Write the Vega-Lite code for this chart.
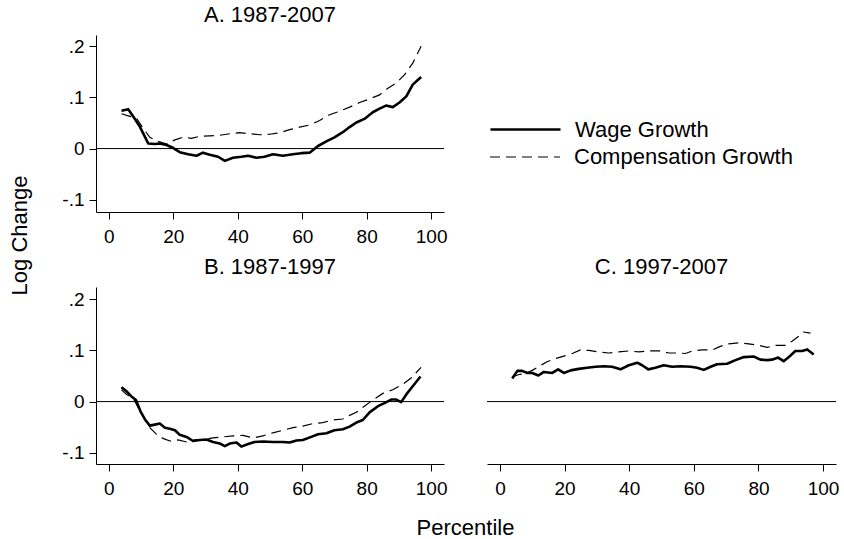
{
  "$schema": "https://vega.github.io/schema/vega-lite/v6.json",
  "background": "white",
  "padding": {"left": 8, "top": 4, "right": 0, "bottom": 0},
  "bounds": "flush",
  "config": {
    "font": "Liberation Sans",
    "view": {"stroke": null},
    "axis": {"grid": false, "domainColor": "black", "tickColor": "black", "labelColor": "black", "labelFontSize": 19, "tickSize": 7, "labelPadding": 5, "domainWidth": 1, "tickWidth": 1, "titleFontWeight": "normal", "titleFontSize": 22, "titleColor": "black", "labelFont": "Liberation Sans", "titleFont": "Liberation Sans"},
    "axisX": {"labelPadding": 8},
    "title": {"fontSize": 22, "fontWeight": "normal", "color": "black", "font": "Liberation Sans", "offset": 8}
  },
  "datasets": {
    "pts": [
    {"panel":"A","series":"Wage Growth","pct":3.9,"val":0.074},{"panel":"A","series":"Wage Growth","pct":6,"val":0.077},{"panel":"A","series":"Wage Growth","pct":7.5,"val":0.063},{"panel":"A","series":"Wage Growth","pct":9.6,"val":0.043},{"panel":"A","series":"Wage Growth","pct":12.2,"val":0.010},{"panel":"A","series":"Wage Growth","pct":14.3,"val":0.009},{"panel":"A","series":"Wage Growth","pct":15.8,"val":0.010},{"panel":"A","series":"Wage Growth","pct":17.9,"val":0.007},{"panel":"A","series":"Wage Growth","pct":20,"val":0.001},{"panel":"A","series":"Wage Growth","pct":22,"val":-0.007},{"panel":"A","series":"Wage Growth","pct":24.6,"val":-0.011},{"panel":"A","series":"Wage Growth","pct":27.2,"val":-0.014},{"panel":"A","series":"Wage Growth","pct":29.2,"val":-0.008},{"panel":"A","series":"Wage Growth","pct":31.3,"val":-0.012},{"panel":"A","series":"Wage Growth","pct":33.9,"val":-0.016},{"panel":"A","series":"Wage Growth","pct":36,"val":-0.024},{"panel":"A","series":"Wage Growth","pct":38.5,"val":-0.018},{"panel":"A","series":"Wage Growth","pct":41.1,"val":-0.016},{"panel":"A","series":"Wage Growth","pct":43.2,"val":-0.014},{"panel":"A","series":"Wage Growth","pct":45.8,"val":-0.018},{"panel":"A","series":"Wage Growth","pct":48.3,"val":-0.016},{"panel":"A","series":"Wage Growth","pct":50.9,"val":-0.011},{"panel":"A","series":"Wage Growth","pct":54,"val":-0.014},{"panel":"A","series":"Wage Growth","pct":57.1,"val":-0.011},{"panel":"A","series":"Wage Growth","pct":59.7,"val":-0.009},{"panel":"A","series":"Wage Growth","pct":62.3,"val":-0.008},{"panel":"A","series":"Wage Growth","pct":64.9,"val":0.005},{"panel":"A","series":"Wage Growth","pct":67.5,"val":0.014},{"panel":"A","series":"Wage Growth","pct":70,"val":0.022},{"panel":"A","series":"Wage Growth","pct":72.6,"val":0.032},{"panel":"A","series":"Wage Growth","pct":74.7,"val":0.042},{"panel":"A","series":"Wage Growth","pct":76.8,"val":0.051},{"panel":"A","series":"Wage Growth","pct":79.3,"val":0.058},{"panel":"A","series":"Wage Growth","pct":81.9,"val":0.071},{"panel":"A","series":"Wage Growth","pct":84,"val":0.078},{"panel":"A","series":"Wage Growth","pct":86,"val":0.084},{"panel":"A","series":"Wage Growth","pct":88.1,"val":0.081},{"panel":"A","series":"Wage Growth","pct":90.2,"val":0.090},{"panel":"A","series":"Wage Growth","pct":92.3,"val":0.102},{"panel":"A","series":"Wage Growth","pct":94.3,"val":0.125},{"panel":"A","series":"Wage Growth","pct":96.9,"val":0.140},
    {"panel":"A","series":"Compensation Growth","pct":3.9,"val":0.068},{"panel":"A","series":"Compensation Growth","pct":6.5,"val":0.063},{"panel":"A","series":"Compensation Growth","pct":8.6,"val":0.059},{"panel":"A","series":"Compensation Growth","pct":10.6,"val":0.040},{"panel":"A","series":"Compensation Growth","pct":12.7,"val":0.022},{"panel":"A","series":"Compensation Growth","pct":15.3,"val":0.014},{"panel":"A","series":"Compensation Growth","pct":17.9,"val":0.009},{"panel":"A","series":"Compensation Growth","pct":20.5,"val":0.017},{"panel":"A","series":"Compensation Growth","pct":23,"val":0.022},{"panel":"A","series":"Compensation Growth","pct":25.6,"val":0.020},{"panel":"A","series":"Compensation Growth","pct":28.2,"val":0.024},{"panel":"A","series":"Compensation Growth","pct":31.3,"val":0.025},{"panel":"A","series":"Compensation Growth","pct":34.4,"val":0.026},{"panel":"A","series":"Compensation Growth","pct":37.5,"val":0.029},{"panel":"A","series":"Compensation Growth","pct":40.6,"val":0.031},{"panel":"A","series":"Compensation Growth","pct":43.7,"val":0.029},{"panel":"A","series":"Compensation Growth","pct":46.8,"val":0.027},{"panel":"A","series":"Compensation Growth","pct":49.9,"val":0.028},{"panel":"A","series":"Compensation Growth","pct":53,"val":0.031},{"panel":"A","series":"Compensation Growth","pct":56.1,"val":0.037},{"panel":"A","series":"Compensation Growth","pct":59.2,"val":0.042},{"panel":"A","series":"Compensation Growth","pct":62.3,"val":0.046},{"panel":"A","series":"Compensation Growth","pct":65.4,"val":0.055},{"panel":"A","series":"Compensation Growth","pct":68.5,"val":0.066},{"panel":"A","series":"Compensation Growth","pct":71.6,"val":0.073},{"panel":"A","series":"Compensation Growth","pct":74.7,"val":0.081},{"panel":"A","series":"Compensation Growth","pct":77.8,"val":0.090},{"panel":"A","series":"Compensation Growth","pct":80.9,"val":0.097},{"panel":"A","series":"Compensation Growth","pct":84,"val":0.105},{"panel":"A","series":"Compensation Growth","pct":86.6,"val":0.118},{"panel":"A","series":"Compensation Growth","pct":89.2,"val":0.128},{"panel":"A","series":"Compensation Growth","pct":91.7,"val":0.144},{"panel":"A","series":"Compensation Growth","pct":94.3,"val":0.167},{"panel":"A","series":"Compensation Growth","pct":96.9,"val":0.200},
    {"panel":"B","series":"Wage Growth","pct":3.9,"val":0.028},{"panel":"B","series":"Wage Growth","pct":5.5,"val":0.020},{"panel":"B","series":"Wage Growth","pct":7,"val":0.010},{"panel":"B","series":"Wage Growth","pct":8.4,"val":0.003},{"panel":"B","series":"Wage Growth","pct":9.8,"val":-0.019},{"panel":"B","series":"Wage Growth","pct":11.2,"val":-0.035},{"panel":"B","series":"Wage Growth","pct":12.7,"val":-0.047},{"panel":"B","series":"Wage Growth","pct":14.3,"val":-0.045},{"panel":"B","series":"Wage Growth","pct":15.8,"val":-0.043},{"panel":"B","series":"Wage Growth","pct":17.4,"val":-0.051},{"panel":"B","series":"Wage Growth","pct":18.9,"val":-0.053},{"panel":"B","series":"Wage Growth","pct":20.5,"val":-0.056},{"panel":"B","series":"Wage Growth","pct":22,"val":-0.065},{"panel":"B","series":"Wage Growth","pct":24.1,"val":-0.069},{"panel":"B","series":"Wage Growth","pct":26.1,"val":-0.077},{"panel":"B","series":"Wage Growth","pct":28.2,"val":-0.075},{"panel":"B","series":"Wage Growth","pct":30.3,"val":-0.074},{"panel":"B","series":"Wage Growth","pct":32.3,"val":-0.079},{"panel":"B","series":"Wage Growth","pct":34.4,"val":-0.082},{"panel":"B","series":"Wage Growth","pct":36,"val":-0.087},{"panel":"B","series":"Wage Growth","pct":37.5,"val":-0.082},{"panel":"B","series":"Wage Growth","pct":39.6,"val":-0.080},{"panel":"B","series":"Wage Growth","pct":41.1,"val":-0.088},{"panel":"B","series":"Wage Growth","pct":43.2,"val":-0.083},{"panel":"B","series":"Wage Growth","pct":45.2,"val":-0.079},{"panel":"B","series":"Wage Growth","pct":47.8,"val":-0.078},{"panel":"B","series":"Wage Growth","pct":50.9,"val":-0.079},{"panel":"B","series":"Wage Growth","pct":54,"val":-0.079},{"panel":"B","series":"Wage Growth","pct":56.1,"val":-0.080},{"panel":"B","series":"Wage Growth","pct":58.2,"val":-0.076},{"panel":"B","series":"Wage Growth","pct":60.2,"val":-0.075},{"panel":"B","series":"Wage Growth","pct":62.8,"val":-0.069},{"panel":"B","series":"Wage Growth","pct":64.9,"val":-0.064},{"panel":"B","series":"Wage Growth","pct":67.5,"val":-0.062},{"panel":"B","series":"Wage Growth","pct":70,"val":-0.056},{"panel":"B","series":"Wage Growth","pct":72.6,"val":-0.054},{"panel":"B","series":"Wage Growth","pct":74.7,"val":-0.049},{"panel":"B","series":"Wage Growth","pct":76.8,"val":-0.041},{"panel":"B","series":"Wage Growth","pct":78.8,"val":-0.036},{"panel":"B","series":"Wage Growth","pct":80.9,"val":-0.021},{"panel":"B","series":"Wage Growth","pct":83.5,"val":-0.009},{"panel":"B","series":"Wage Growth","pct":85.5,"val":-0.003},{"panel":"B","series":"Wage Growth","pct":87.6,"val":0.004},{"panel":"B","series":"Wage Growth","pct":89.2,"val":0.004},{"panel":"B","series":"Wage Growth","pct":90.7,"val":-0.001},{"panel":"B","series":"Wage Growth","pct":92.3,"val":0.014},{"panel":"B","series":"Wage Growth","pct":94.3,"val":0.030},{"panel":"B","series":"Wage Growth","pct":96.7,"val":0.049},
    {"panel":"B","series":"Compensation Growth","pct":3.9,"val":0.023},{"panel":"B","series":"Compensation Growth","pct":5.5,"val":0.014},{"panel":"B","series":"Compensation Growth","pct":7.5,"val":0.007},{"panel":"B","series":"Compensation Growth","pct":9.1,"val":-0.012},{"panel":"B","series":"Compensation Growth","pct":10.6,"val":-0.028},{"panel":"B","series":"Compensation Growth","pct":12.7,"val":-0.051},{"panel":"B","series":"Compensation Growth","pct":14.8,"val":-0.064},{"panel":"B","series":"Compensation Growth","pct":16.8,"val":-0.072},{"panel":"B","series":"Compensation Growth","pct":18.9,"val":-0.077},{"panel":"B","series":"Compensation Growth","pct":21.5,"val":-0.075},{"panel":"B","series":"Compensation Growth","pct":24.1,"val":-0.079},{"panel":"B","series":"Compensation Growth","pct":26.7,"val":-0.075},{"panel":"B","series":"Compensation Growth","pct":29.2,"val":-0.074},{"panel":"B","series":"Compensation Growth","pct":32.3,"val":-0.071},{"panel":"B","series":"Compensation Growth","pct":35.4,"val":-0.069},{"panel":"B","series":"Compensation Growth","pct":38.5,"val":-0.067},{"panel":"B","series":"Compensation Growth","pct":41.6,"val":-0.066},{"panel":"B","series":"Compensation Growth","pct":44.7,"val":-0.071},{"panel":"B","series":"Compensation Growth","pct":47.8,"val":-0.067},{"panel":"B","series":"Compensation Growth","pct":50.9,"val":-0.061},{"panel":"B","series":"Compensation Growth","pct":54,"val":-0.056},{"panel":"B","series":"Compensation Growth","pct":57.1,"val":-0.051},{"panel":"B","series":"Compensation Growth","pct":60.2,"val":-0.048},{"panel":"B","series":"Compensation Growth","pct":63.3,"val":-0.043},{"panel":"B","series":"Compensation Growth","pct":66.4,"val":-0.041},{"panel":"B","series":"Compensation Growth","pct":69.5,"val":-0.036},{"panel":"B","series":"Compensation Growth","pct":72.6,"val":-0.034},{"panel":"B","series":"Compensation Growth","pct":74.7,"val":-0.027},{"panel":"B","series":"Compensation Growth","pct":76.8,"val":-0.021},{"panel":"B","series":"Compensation Growth","pct":79.3,"val":-0.009},{"panel":"B","series":"Compensation Growth","pct":81.9,"val":0.003},{"panel":"B","series":"Compensation Growth","pct":85,"val":0.016},{"panel":"B","series":"Compensation Growth","pct":88.1,"val":0.023},{"panel":"B","series":"Compensation Growth","pct":91.2,"val":0.034},{"panel":"B","series":"Compensation Growth","pct":93.8,"val":0.046},{"panel":"B","series":"Compensation Growth","pct":96.9,"val":0.067},
    {"panel":"C","series":"Wage Growth","pct":3.8,"val":0.045},{"panel":"C","series":"Wage Growth","pct":5.4,"val":0.060},{"panel":"C","series":"Wage Growth","pct":6.9,"val":0.060},{"panel":"C","series":"Wage Growth","pct":8.5,"val":0.056},{"panel":"C","series":"Wage Growth","pct":10,"val":0.056},{"panel":"C","series":"Wage Growth","pct":11.9,"val":0.051},{"panel":"C","series":"Wage Growth","pct":13.6,"val":0.058},{"panel":"C","series":"Wage Growth","pct":16.2,"val":0.056},{"panel":"C","series":"Wage Growth","pct":18,"val":0.063},{"panel":"C","series":"Wage Growth","pct":19.8,"val":0.056},{"panel":"C","series":"Wage Growth","pct":21.9,"val":0.061},{"panel":"C","series":"Wage Growth","pct":24.4,"val":0.064},{"panel":"C","series":"Wage Growth","pct":27,"val":0.066},{"panel":"C","series":"Wage Growth","pct":29.6,"val":0.068},{"panel":"C","series":"Wage Growth","pct":32.2,"val":0.069},{"panel":"C","series":"Wage Growth","pct":34.7,"val":0.068},{"panel":"C","series":"Wage Growth","pct":37.3,"val":0.063},{"panel":"C","series":"Wage Growth","pct":39.9,"val":0.071},{"panel":"C","series":"Wage Growth","pct":42.5,"val":0.076},{"panel":"C","series":"Wage Growth","pct":44,"val":0.071},{"panel":"C","series":"Wage Growth","pct":45.9,"val":0.063},{"panel":"C","series":"Wage Growth","pct":48.1,"val":0.066},{"panel":"C","series":"Wage Growth","pct":50.7,"val":0.071},{"panel":"C","series":"Wage Growth","pct":53.3,"val":0.068},{"panel":"C","series":"Wage Growth","pct":55.9,"val":0.069},{"panel":"C","series":"Wage Growth","pct":59,"val":0.068},{"panel":"C","series":"Wage Growth","pct":61,"val":0.066},{"panel":"C","series":"Wage Growth","pct":63.1,"val":0.062},{"panel":"C","series":"Wage Growth","pct":65.2,"val":0.068},{"panel":"C","series":"Wage Growth","pct":67.2,"val":0.073},{"panel":"C","series":"Wage Growth","pct":70.3,"val":0.074},{"panel":"C","series":"Wage Growth","pct":72.9,"val":0.081},{"panel":"C","series":"Wage Growth","pct":75.5,"val":0.087},{"panel":"C","series":"Wage Growth","pct":78.6,"val":0.088},{"panel":"C","series":"Wage Growth","pct":80.6,"val":0.082},{"panel":"C","series":"Wage Growth","pct":82.7,"val":0.081},{"panel":"C","series":"Wage Growth","pct":84.2,"val":0.082},{"panel":"C","series":"Wage Growth","pct":86.1,"val":0.086},{"panel":"C","series":"Wage Growth","pct":87.8,"val":0.079},{"panel":"C","series":"Wage Growth","pct":89.4,"val":0.087},{"panel":"C","series":"Wage Growth","pct":91.4,"val":0.099},{"panel":"C","series":"Wage Growth","pct":93.5,"val":0.099},{"panel":"C","series":"Wage Growth","pct":95.1,"val":0.102},{"panel":"C","series":"Wage Growth","pct":97.1,"val":0.092},
    {"panel":"C","series":"Compensation Growth","pct":3.8,"val":0.048},{"panel":"C","series":"Compensation Growth","pct":5.9,"val":0.053},{"panel":"C","series":"Compensation Growth","pct":7.9,"val":0.055},{"panel":"C","series":"Compensation Growth","pct":10,"val":0.061},{"panel":"C","series":"Compensation Growth","pct":12.1,"val":0.069},{"panel":"C","series":"Compensation Growth","pct":14.6,"val":0.078},{"panel":"C","series":"Compensation Growth","pct":17.2,"val":0.084},{"panel":"C","series":"Compensation Growth","pct":19.8,"val":0.089},{"panel":"C","series":"Compensation Growth","pct":22.4,"val":0.094},{"panel":"C","series":"Compensation Growth","pct":24.9,"val":0.101},{"panel":"C","series":"Compensation Growth","pct":27.5,"val":0.100},{"panel":"C","series":"Compensation Growth","pct":30.6,"val":0.097},{"panel":"C","series":"Compensation Growth","pct":33.7,"val":0.095},{"panel":"C","series":"Compensation Growth","pct":36.8,"val":0.097},{"panel":"C","series":"Compensation Growth","pct":39.9,"val":0.099},{"panel":"C","series":"Compensation Growth","pct":43,"val":0.097},{"panel":"C","series":"Compensation Growth","pct":46.1,"val":0.099},{"panel":"C","series":"Compensation Growth","pct":49.2,"val":0.099},{"panel":"C","series":"Compensation Growth","pct":52.3,"val":0.095},{"panel":"C","series":"Compensation Growth","pct":55.4,"val":0.095},{"panel":"C","series":"Compensation Growth","pct":57.4,"val":0.094},{"panel":"C","series":"Compensation Growth","pct":59.5,"val":0.099},{"panel":"C","series":"Compensation Growth","pct":62.6,"val":0.101},{"panel":"C","series":"Compensation Growth","pct":65.7,"val":0.101},{"panel":"C","series":"Compensation Growth","pct":68.2,"val":0.108},{"panel":"C","series":"Compensation Growth","pct":70.8,"val":0.113},{"panel":"C","series":"Compensation Growth","pct":73.9,"val":0.115},{"panel":"C","series":"Compensation Growth","pct":77,"val":0.113},{"panel":"C","series":"Compensation Growth","pct":80.1,"val":0.110},{"panel":"C","series":"Compensation Growth","pct":82.7,"val":0.106},{"panel":"C","series":"Compensation Growth","pct":85.3,"val":0.110},{"panel":"C","series":"Compensation Growth","pct":88.4,"val":0.110},{"panel":"C","series":"Compensation Growth","pct":90.4,"val":0.118},{"panel":"C","series":"Compensation Growth","pct":92.5,"val":0.128},{"panel":"C","series":"Compensation Growth","pct":94,"val":0.136},{"panel":"C","series":"Compensation Growth","pct":96.1,"val":0.134}
    ],
    "zero": [{"z": 0}]
  },
  "vconcat": [
    {
      "title": "A. 1987-2007",
      "width": 348, "height": 177,
      "resolve": {"scale": {"color": "independent"}, "legend": {"color": "independent"}},
      "layer": [
        {"data": {"name": "zero"}, "mark": {"type": "rule", "color": "black", "strokeWidth": 1}, "encoding": {"y": {"field": "z", "type": "quantitative", "scale": {"domain": [-0.124, 0.222], "nice": false, "zero": false}, "axis": {"values": [-0.1, 0, 0.1, 0.2], "labelExpr": "datum.value == 0 ? '0' : (datum.value < 0 ? '-' : '') + '.' + format(abs(datum.value) * 10, 'd')", "title": "Log Change", "titleX": -77, "titleY": 200, "titleAlign": "center", "titleBaseline": "middle", "titleAngle": -90}}}},
        {"data": {"name": "pts"}, "transform": [{"filter": "datum.panel === 'A' && datum.series === 'Compensation Growth'"}],
         "mark": {"type": "line", "strokeWidth": 1.2, "strokeDash": [10, 6]},
         "encoding": {
           "x": {"field": "pct", "type": "quantitative", "scale": {"domain": [-4, 104], "nice": false, "zero": false}, "axis": {"values": [0, 20, 40, 60, 80, 100], "title": null}},
           "y": {"field": "val", "type": "quantitative"},
           "color": {"field": "series", "type": "nominal", "scale": {"domain": ["Compensation Growth"], "range": ["black"]}, "legend": {"orient": "none", "legendX": 418, "legendY": 111, "padding": 0, "title": null, "symbolType": "M-3.5,0H3.5", "symbolSize": 400, "symbolStrokeWidth": 1.2, "symbolDash": [10, 6], "symbolStrokeColor": "black", "labelFontSize": 22, "labelColor": "black", "labelOffset": 38, "labelLimit": 400}}
         }},
        {"data": {"name": "pts"}, "transform": [{"filter": "datum.panel === 'A' && datum.series === 'Wage Growth'"}],
         "mark": {"type": "line", "strokeWidth": 2.6, "strokeJoin": "round"},
         "encoding": {
           "x": {"field": "pct", "type": "quantitative"},
           "y": {"field": "val", "type": "quantitative"},
           "color": {"field": "series", "type": "nominal", "scale": {"domain": ["Wage Growth"], "range": ["black"]}, "legend": {"orient": "none", "legendX": 418, "legendY": 83, "padding": 0, "title": null, "symbolType": "M-3.5,0H3.5", "symbolSize": 400, "symbolStrokeWidth": 2.6, "symbolStrokeColor": "black", "labelFontSize": 22, "labelColor": "black", "labelOffset": 38, "labelLimit": 400}}
         }}
      ]
    },
    {
      "bounds": "flush",
      "spacing": 43,
      "hconcat": [
        {
          "title": "B. 1987-1997",
          "width": 348, "height": 177,
          "layer": [
            {"data": {"name": "zero"}, "mark": {"type": "rule", "color": "black", "strokeWidth": 1}, "encoding": {"y": {"field": "z", "type": "quantitative", "scale": {"domain": [-0.122, 0.224], "nice": false, "zero": false}, "axis": {"values": [-0.1, 0, 0.1, 0.2], "labelExpr": "datum.value == 0 ? '0' : (datum.value < 0 ? '-' : '') + '.' + format(abs(datum.value) * 10, 'd')", "title": null}}}},
            {"data": {"name": "pts"}, "transform": [{"filter": "datum.panel === 'B' && datum.series === 'Compensation Growth'"}],
             "mark": {"type": "line", "color": "black", "strokeWidth": 1.2, "strokeDash": [10, 6]},
             "encoding": {
               "x": {"field": "pct", "type": "quantitative", "scale": {"domain": [-4, 104], "nice": false, "zero": false}, "axis": {"values": [0, 20, 40, 60, 80, 100], "title": "Percentile", "titleX": 369, "titleY": 63, "titleAlign": "center", "titleBaseline": "middle"}},
               "y": {"field": "val", "type": "quantitative"}
             }},
            {"data": {"name": "pts"}, "transform": [{"filter": "datum.panel === 'B' && datum.series === 'Wage Growth'"}],
             "mark": {"type": "line", "color": "black", "strokeWidth": 2.6, "strokeJoin": "round"},
             "encoding": {
               "x": {"field": "pct", "type": "quantitative"},
               "y": {"field": "val", "type": "quantitative"}
             }}
          ]
        },
        {
          "title": "C. 1997-2007",
          "width": 349, "height": 177,
          "layer": [
            {"data": {"name": "zero"}, "mark": {"type": "rule", "color": "black", "strokeWidth": 1}, "encoding": {"y": {"field": "z", "type": "quantitative", "scale": {"domain": [-0.122, 0.224], "nice": false, "zero": false}, "axis": null}}},
            {"data": {"name": "pts"}, "transform": [{"filter": "datum.panel === 'C' && datum.series === 'Compensation Growth'"}],
             "mark": {"type": "line", "color": "black", "strokeWidth": 1.2, "strokeDash": [10, 6]},
             "encoding": {
               "x": {"field": "pct", "type": "quantitative", "scale": {"domain": [-4, 104], "nice": false, "zero": false}, "axis": {"values": [0, 20, 40, 60, 80, 100], "title": null}},
               "y": {"field": "val", "type": "quantitative", "axis": null}
             }},
            {"data": {"name": "pts"}, "transform": [{"filter": "datum.panel === 'C' && datum.series === 'Wage Growth'"}],
             "mark": {"type": "line", "color": "black", "strokeWidth": 2.6, "strokeJoin": "round"},
             "encoding": {
               "x": {"field": "pct", "type": "quantitative"},
               "y": {"field": "val", "type": "quantitative", "axis": null}
             }}
          ]
        }
      ]
    }
  ],
  "spacing": 75
}
